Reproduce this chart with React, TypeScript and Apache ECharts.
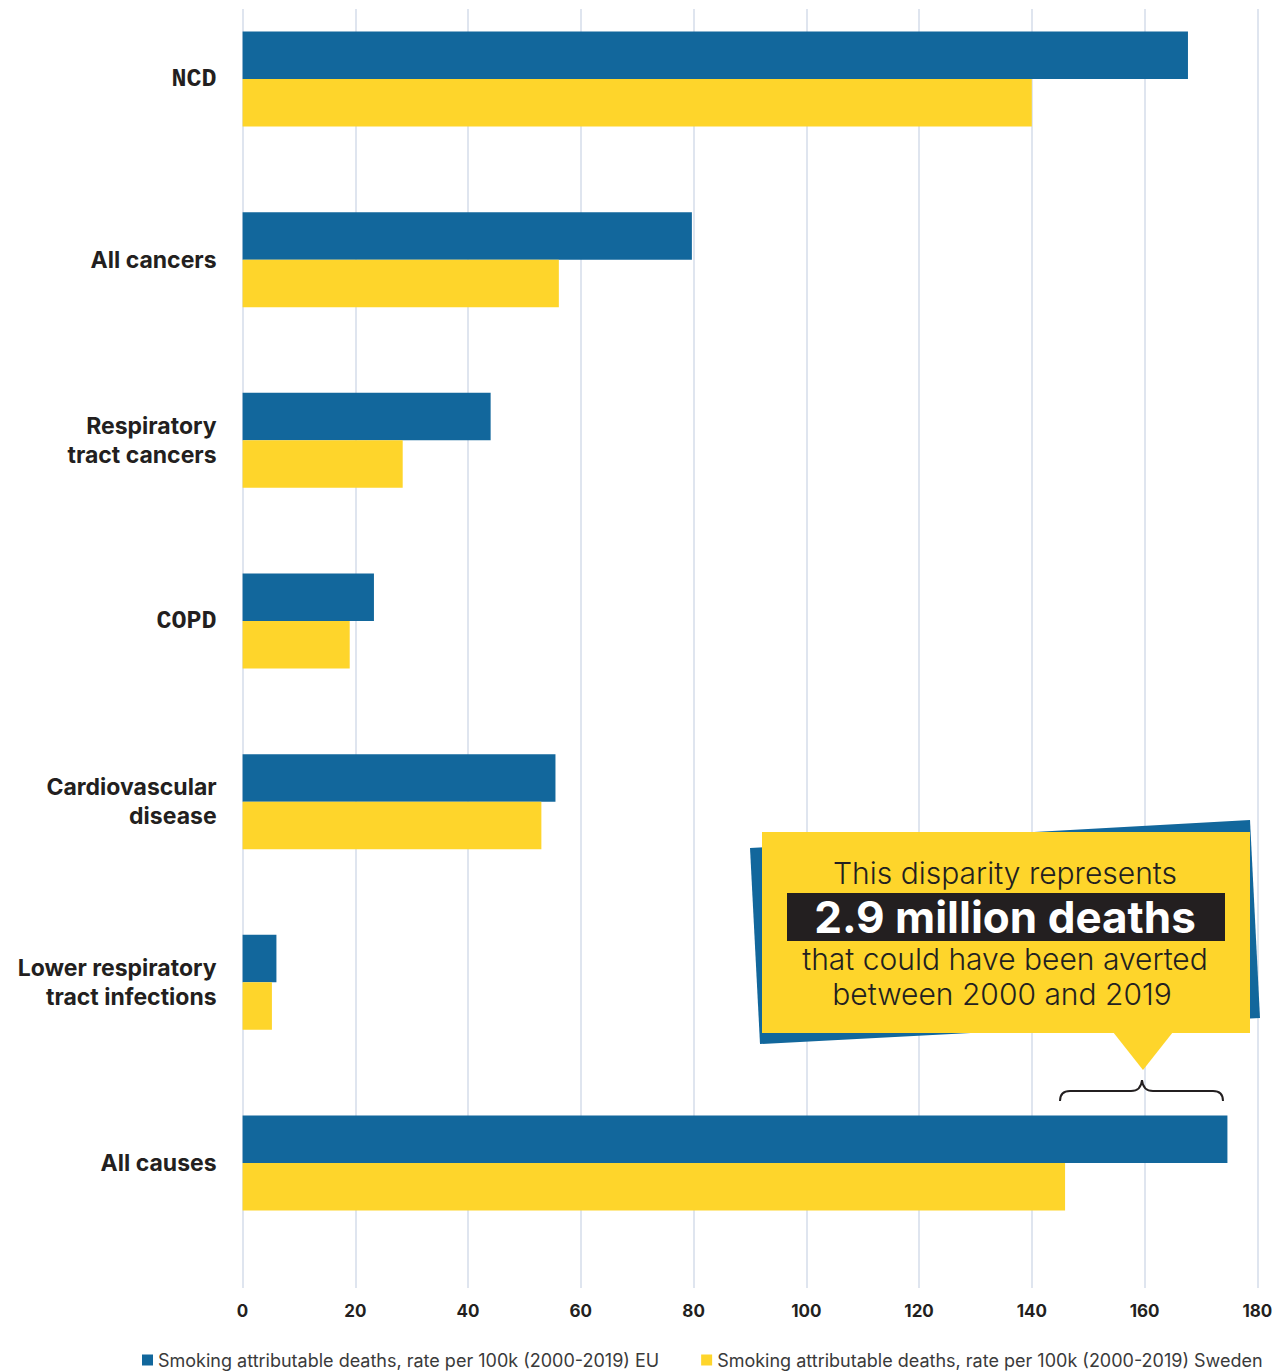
import React, { useEffect, useRef } from "react";
import * as echarts from "echarts";

const categories = [
  "NCD",
  "All cancers",
  "Respiratory\ntract cancers",
  "COPD",
  "Cardiovascular\ndisease",
  "Lower respiratory\ntract infections",
  "All causes",
];
const euValues = [167.7, 79.7, 44.0, 23.3, 55.5, 6.0, 174.7];
const swedenValues = [140.0, 56.1, 28.4, 19.0, 53.0, 5.2, 145.9];
const xTicks = [0, 20, 40, 60, 80, 100, 120, 140, 160, 180];
const seriesNames = [
  "Smoking attributable deaths, rate per 100k (2000-2019) EU",
  "Smoking attributable deaths, rate per 100k (2000-2019) Sweden",
];
const calloutLines = [
  "This disparity represents",
  "2.9 million deaths",
  "that could have been averted",
  "between 2000 and 2019",
];

const BLUE = "#12679C";
const YELLOW = "#FED52B";
const DARK = "#231F20";
const GRID = "#D5DCEA";
const SANS = "Inter, 'Noto Sans', sans-serif";
const MONO = "'Liberation Mono', 'DejaVu Sans Mono', monospace";
// the chart container starts OFF px above the page so the first category band can start above 0
const OFF = 12;

export default function App() {
  const ref = useRef<HTMLDivElement>(null);
  useEffect(() => {
    if (!ref.current) return;
    const chart = echarts.init(ref.current, undefined, { renderer: "svg" });
    echarts.graphic.registerShape(
      "brace",
      echarts.graphic.extendPath(
        "M0,21 Q0,11 10,11 L71,11 Q81,11 82,0 Q83,11 93,11 L153,11 Q163,11 163,21",
        {}
      )
    );
    const Y = (v: number) => v + OFF;
    const option: any = {
      animation: false,
      textStyle: { fontFamily: SANS },
      legend: {
        data: seriesNames,
        left: 137,
        top: Y(1346),
        icon: "rect",
        itemWidth: 11,
        itemHeight: 11,
        itemGap: 42,
        selectedMode: false,
        textStyle: { fontSize: 18, color: "#3A3A3A", fontFamily: SANS },
      },
      grid: [
        { left: 242.6, right: 23.7, top: OFF - 11.3, bottom: 118.7, containLabel: false },
        { left: 242.6, right: 23.7, top: Y(9), bottom: 84, containLabel: false },
      ],
      xAxis: [
        { type: "value", gridIndex: 0, min: 0, max: 180, interval: 20, show: false },
        {
          type: "value",
          gridIndex: 1,
          min: 0,
          max: 180,
          interval: 20,
          axisLine: { show: false },
          axisTick: { show: false },
          splitLine: { show: true, lineStyle: { color: GRID, width: 1.5 } },
          axisLabel: {
            margin: 14,
            fontSize: 17,
            fontWeight: "bold",
            color: DARK,
            fontFamily: SANS,
            formatter: (v: number) => (xTicks.includes(v) ? String(v) : ""),
          },
        },
      ],
      yAxis: [
        {
          type: "category",
          gridIndex: 0,
          data: categories,
          inverse: true,
          axisLine: { show: false },
          axisTick: { show: false },
          splitLine: { show: false },
          axisLabel: {
            margin: 26,
            fontSize: 23,
            fontWeight: "bold",
            color: DARK,
            lineHeight: 29,
            fontFamily: SANS,
            align: "right",
            formatter: (v: string) =>
              v === "NCD" || v === "COPD" ? `{m|${v}}` : v,
            rich: {
              m: {
                fontFamily: MONO,
                fontWeight: "bold",
                fontSize: 25,
                color: DARK,
              },
            },
          },
        },
        { type: "value", gridIndex: 1, min: 0, max: 1, show: false },
      ],
      series: [
        {
          name: seriesNames[0],
          type: "bar",
          xAxisIndex: 0,
          yAxisIndex: 0,
          data: euValues,
          barWidth: 47.5,
          barGap: "0%",
          itemStyle: { color: BLUE },
          z: 3,
        },
        {
          name: seriesNames[1],
          type: "bar",
          xAxisIndex: 0,
          yAxisIndex: 0,
          data: swedenValues,
          barWidth: 47.5,
          barGap: "0%",
          itemStyle: { color: YELLOW },
          z: 3,
        },
        {
          type: "scatter",
          xAxisIndex: 1,
          yAxisIndex: 1,
          data: [],
          silent: true,
        },
      ],
      graphic: [
        {
          type: "polygon",
          z: 100,
          shape: {
            points: [
              [750, Y(848)],
              [1250, Y(820)],
              [1260, Y(1018)],
              [760, Y(1044)],
            ],
          },
          style: { fill: BLUE },
        },
        {
          type: "rect",
          z: 101,
          shape: { x: 762, y: Y(832), width: 488, height: 201 },
          style: { fill: YELLOW },
        },
        {
          type: "polygon",
          z: 101,
          shape: {
            points: [
              [1113, Y(1032)],
              [1173, Y(1032)],
              [1143, Y(1070)],
            ],
          },
          style: { fill: YELLOW },
        },
        {
          type: "rect",
          z: 102,
          shape: { x: 787, y: Y(893), width: 438, height: 48 },
          style: { fill: DARK },
        },
        {
          type: "text",
          z: 103,
          x: 1005,
          y: Y(873),
          style: {
            text: calloutLines[0],
            fill: DARK,
            font: `300 30px ${SANS}`,
            textAlign: "center",
            textVerticalAlign: "middle",
          },
        },
        {
          type: "text",
          z: 103,
          x: 1005,
          y: Y(917),
          style: {
            text: calloutLines[1],
            fill: "#FFFFFF",
            font: `bold 44px ${SANS}`,
            textAlign: "center",
            textVerticalAlign: "middle",
          },
        },
        {
          type: "text",
          z: 103,
          x: 1005,
          y: Y(959),
          style: {
            text: calloutLines[2],
            fill: DARK,
            font: `300 30px ${SANS}`,
            textAlign: "center",
            textVerticalAlign: "middle",
          },
        },
        {
          type: "text",
          z: 103,
          x: 1002,
          y: Y(994),
          style: {
            text: calloutLines[3],
            fill: DARK,
            font: `300 30px ${SANS}`,
            textAlign: "center",
            textVerticalAlign: "middle",
          },
        },
        {
          type: "brace",
          z: 103,
          x: 1060,
          y: Y(1080),
          style: { fill: "none", stroke: DARK, lineWidth: 2 },
        },
      ],
    };
    chart.setOption(option);
    return () => chart.dispose();
  }, []);
  return (
    <div
      ref={ref}
      style={{
        position: "fixed",
        left: 0,
        top: -OFF,
        width: 1281,
        height: 1372 + OFF,
        background: "#fff",
      }}
    />
  );
}
